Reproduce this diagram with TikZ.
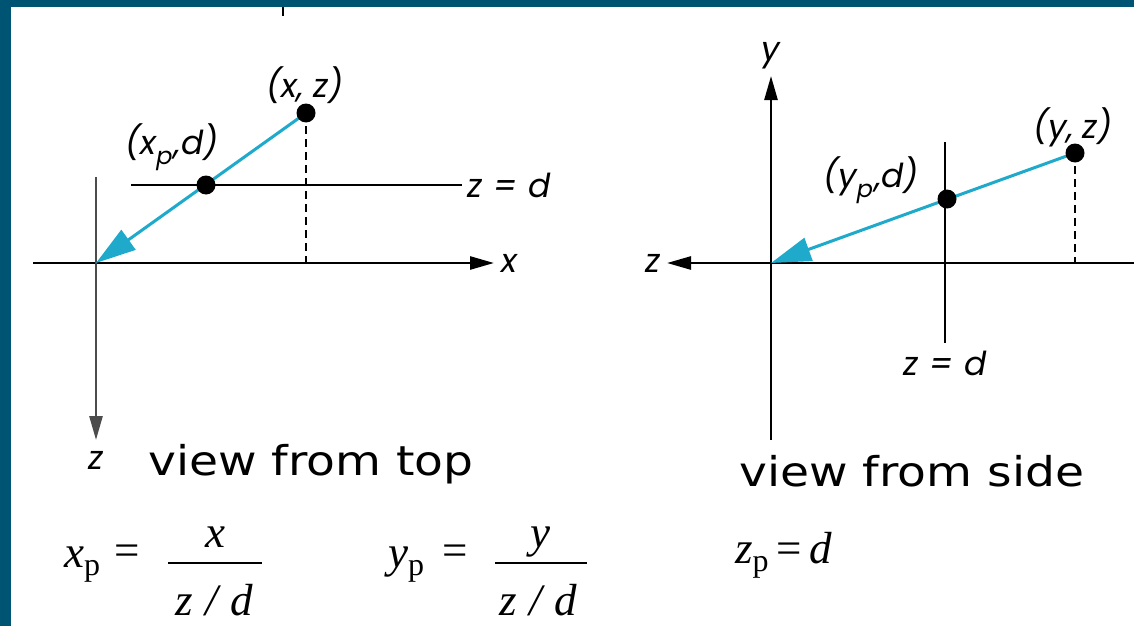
\documentclass[tikz,border=0pt]{standalone}
\usepackage{fontspec}
\setmainfont{DejaVu Sans}
\newfontfamily\capfont[FakeStretch=1.15]{DejaVu Sans}
\newfontfamily\labelfont{Poppins}
\newfontfamily\formfont{Liberation Serif}
\usetikzlibrary{arrows.meta}
\definecolor{framebar}{HTML}{005473}
\definecolor{rayblue}{HTML}{1FA9CB}
\newcommand{\lsub}[1]{\raisebox{-0.32em}{\fontsize{24}{24}\selectfont #1}}
\newcommand{\fsub}[1]{\raisebox{-8pt}{\upshape\fontsize{32}{32}\selectfont #1}}

\begin{document}
\begin{tikzpicture}[x=1pt, y=-1pt,
	axis/.style={line width=2.6pt, -{Triangle[length=24pt,width=13pt]}},
	ray/.style={rayblue, line width=3pt, -{Triangle[length=40pt,width=24pt]}},
	proj/.style={dash pattern=on 8pt off 5pt, line width=1.5pt},
	dot/.style={circle, fill=black, inner sep=0pt, minimum size=19pt},
	lbl/.style={font=\labelfont\itshape\fontsize{33}{35}\selectfont, inner sep=0pt},
	viewcap/.style={font=\capfont\fontsize{41}{44}\selectfont, inner sep=0pt, anchor=base west},
	eq/.style={font=\formfont\fontsize{45}{47}\selectfont, inner sep=0pt}]
	\useasboundingbox (0,0) rectangle (1134,626);
	\fill[white] (0,0) rectangle (1134,626);
	\fill[framebar] (0,0) rectangle (1134,7);
	\fill[framebar] (0,0) rectangle (11,626);
	\draw[line width=2.5pt] (283,7) -- (283,16);

	% view from top
	\coordinate (ot) at (96,263);
	\coordinate (xz) at (306,113);
	\coordinate (xpd) at (206,185);
	\draw[axis] (33,263) -- (494,263) node[lbl, anchor=west, xshift=6pt] (xlbl) {x};
	\draw[axis, black!70] (96,177) -- (96,440) node[lbl, text=black, below=10pt] (zlbl) {z};
	\draw[line width=2.6pt] (131,185) -- (462,185) node[lbl, anchor=west, xshift=4pt] (zdl) {z\,\,=\,\,d};
	\draw[proj] (xz) -- (ot -| xz);
	\draw[ray] (xz) -- (ot);
	\node[dot] (pxz) at (xz) {};
	\node[dot] (pxpd) at (xpd) {};
	\node[lbl] (lxz) at (305,85) {(x,\kern9pt z)};
	\node[lbl] (lxpd) at (172,147) {(x\lsub{p}\kern2pt,d)};
	\node[viewcap] (ctop) at (148,475) {view from top};

	% view from side
	\coordinate (os) at (771,263);
	\coordinate (yz) at (1075,153);
	\coordinate (ypd) at (947,199);
	\draw[axis] (771,440) -- (771,76) node[lbl, above=6pt] (ylbl) {y};
	\draw[axis] (1134,263) -- (667,263) node[lbl, anchor=east, xshift=-5pt] (zlbl2) {z};
	\draw[line width=2.6pt] (945,142) -- (945,343) node[lbl, below=7pt] (zdl2) {z\,\,=\,\,d};
	\draw[proj] (yz) -- (os -| yz);
	\draw[ray] (yz) -- (os);
	\node[dot] (pyz) at (yz) {};
	\node[dot] (pypd) at (ypd) {};
	\node[lbl] (lyz) at (1073,127) {(y,\kern9pt z)};
	\node[lbl] (lypd) at (871,180) {(y\lsub{p}\kern2pt,d)};
	\node[viewcap] (cside) at (739,486) {view from side};

	% projection equations
	\node[eq, anchor=base west] (xp) at (64,567) {\itshape x\fsub{p}};
	\node[eq, anchor=base west] (eqa) at (114,565) {=};
	\node[eq, anchor=base] (xnum) at (215,547) {\itshape x};
	\node[eq, anchor=base] (xden) at (214,615) {\itshape z\;/\;d};
	\draw[line width=2.4pt] (168,563) -- (262,563);
	\node[eq, anchor=base west] (yp) at (388,567) {\itshape y\fsub{p}};
	\node[eq, anchor=base west] (eqb) at (442,565) {=};
	\node[eq, anchor=base] (ynum) at (540,547) {\itshape y};
	\node[eq, anchor=base] (yden) at (538,615) {\itshape z\;/\;d};
	\draw[line width=2.4pt] (495,563) -- (587,563);
	\node[eq, anchor=base west] (zp) at (735,563) {\itshape z\fsub{p}\,\upshape =\,\itshape d};
\end{tikzpicture}
\end{document}
